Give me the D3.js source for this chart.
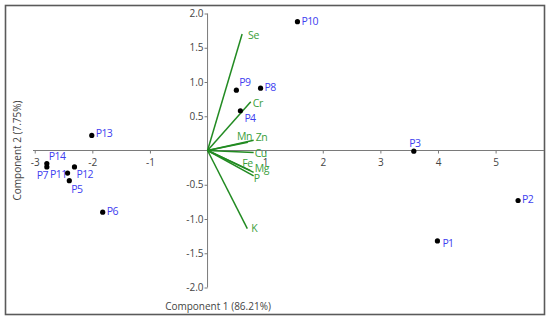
<!DOCTYPE html>
<html><head><meta charset="utf-8">
<script src="https://cdn.jsdelivr.net/npm/d3@7"></script>
<style>
body{margin:0;background:#fff;}
svg{display:block;font-family:"Open Sans","Noto Sans",sans-serif;}
</style></head>
<body><svg id="c" width="550" height="321"></svg>
<script>
// Scores (PCA objects)
const pointNames = ["P1","P2","P3","P4","P5","P6","P7","P8","P9","P10","P11","P12","P13","P14"];
const pointX = [3.99, 5.39, 3.58, 0.57, -2.40, -1.82, -2.79, 0.92, 0.50, 1.56, -2.43, -2.31, -2.01, -2.79];
const pointY = [-1.32, -0.73, -0.01, 0.58, -0.44, -0.90, -0.24, 0.91, 0.88, 1.88, -0.33, -0.24, 0.22, -0.19];
// Loadings (variables)
const varNames = ["Se","Cr","Mn","Zn","Cu","Fe","Mg","P","K"];
const varX = [0.60, 0.75, 0.70, 0.80, 0.80, 0.74, 0.80, 0.80, 0.69];
const varY = [1.70, 0.71, 0.12, 0.15, -0.03, -0.29, -0.32, -0.37, -1.14];
// Ticks
const xTicks = [-3, -2, -1, 1, 2, 3, 4, 5];
const yTicks = [-2.0, -1.5, -1.0, -0.5, 0.5, 1.0, 1.5, 2.0];
const xTitle = "Component 1 (86.21%)";
const yTitle = "Component 2 (7.75%)";

// label placement (dx, dy, anchor)
const pointLabelPos = {
  P1:[5,2,"start"], P2:[4,-1,"start"], P3:[1,-8,"middle"], P4:[4,8,"start"],
  P5:[2,9,"start"], P6:[4,-1,"start"], P7:[1,8,"end"], P8:[4,-1,"start"],
  P9:[3,-8,"start"], P10:[4,0,"start"], P11:[-1,1,"end"], P12:[2,7,"start"],
  P13:[4,-2,"start"], P14:[2,-7,"start"]
};
const varLabelPos = {
  Se:[6,1,"start"], Cr:[2,1,"start"], Mn:[-11,-6,"start"], Zn:[2,-3,"start"],
  Cu:[1,1,"start"], Fe:[-8,-7,"start"], Mg:[1,-4,"start"], P:[0,2,"start"], K:[4,0,"start"]
};

const svg = d3.select("#c");
const x = d3.scaleLinear().domain([-3.03, 5.84]).range([33, 544]);
const y = d3.scaleLinear().domain([-2.0, 2.0]).range([287.5, 13.5]);

// frame
svg.append("rect").attr("x",5.5).attr("y",5.5).attr("width",539).attr("height",309)
  .attr("fill","none").attr("stroke","#5a5a5a").attr("stroke-width",1.6);

const fmtY = d => d3.format(".1f")(d).replace("\u2212","-");
const fmtX = d => d3.format("d")(d).replace("\u2212","-");

// x axis
const gx = svg.append("g").attr("transform",`translate(0,${y(0)})`)
  .call(d3.axisBottom(x).tickValues(xTicks).tickFormat(fmtX).tickSize(3).tickPadding(5));
gx.select(".domain").attr("stroke","#7a7a7a").attr("d",`M${x.range()[0]},0H${x.range()[1]}`);
gx.selectAll(".tick line").attr("stroke","#7a7a7a");
gx.selectAll("text").attr("fill","#444").attr("font-size",10).attr("font-family","Open Sans");

// y axis
const gy = svg.append("g").attr("transform",`translate(${x(0)},0)`)
  .call(d3.axisLeft(y).tickValues(yTicks).tickFormat(fmtY).tickSize(3).tickPadding(1));
gy.select(".domain").attr("stroke","#7a7a7a").attr("d",`M0,${y.range()[1]}V${y.range()[0]}`);
gy.selectAll(".tick line").attr("stroke","#7a7a7a");
gy.selectAll("text").attr("fill","#444").attr("font-size",10).attr("font-family","Open Sans");

// titles
svg.append("text").attr("x",218).attr("y",310).attr("text-anchor","middle")
  .attr("font-size",10).attr("fill","#444").text(xTitle);
svg.append("text").attr("transform",`translate(21,${y(0)}) rotate(-90)`).attr("text-anchor","middle")
  .attr("font-size",10).attr("fill","#444").text(yTitle);

// loadings
const vars = varNames.map((n,i)=>({n, x:varX[i], y:varY[i]}));
svg.append("g").selectAll("line").data(vars).join("line")
  .attr("x1",x(0)).attr("y1",y(0)).attr("x2",d=>x(d.x)).attr("y2",d=>y(d.y))
  .attr("stroke","#228b22").attr("stroke-width",1.5);
svg.append("g").selectAll("text").data(vars).join("text")
  .attr("x",d=>x(d.x)+varLabelPos[d.n][0]).attr("y",d=>y(d.y)+varLabelPos[d.n][1])
  .attr("dy","0.35em").attr("text-anchor",d=>varLabelPos[d.n][2])
  .attr("font-size",10.5).attr("letter-spacing",-0.4).attr("fill","#3a9e3a").text(d=>d.n);

// scores
const pts = pointNames.map((n,i)=>({n, x:pointX[i], y:pointY[i]}));
svg.append("g").selectAll("circle").data(pts).join("circle")
  .attr("cx",d=>x(d.x)).attr("cy",d=>y(d.y)).attr("r",2.6).attr("fill","#000");
svg.append("g").selectAll("text").data(pts).join("text")
  .attr("x",d=>x(d.x)+pointLabelPos[d.n][0]).attr("y",d=>y(d.y)+pointLabelPos[d.n][1])
  .attr("dy","0.35em").attr("text-anchor",d=>pointLabelPos[d.n][2])
  .attr("font-size",10.5).attr("fill","#4040f0").attr("letter-spacing",-0.6).text(d=>d.n);
</script></body></html>
